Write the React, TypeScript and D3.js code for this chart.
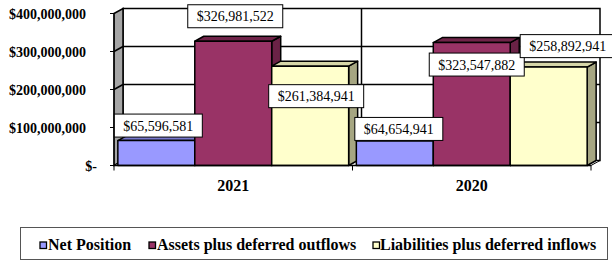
import React from 'react';
import * as d3 from 'd3';

const WIDTH = 612;
const HEIGHT = 261;

const years = ['2021', '2020'];
const seriesNames = ['Net Position', 'Assets plus deferred outflows', 'Liabilities plus deferred inflows'];
const netPosition = [65596581, 64654941];
const assets = [326981522, 323547882];
const liabilities = [261384941, 258892941];
const yTicks = [0, 100000000, 200000000, 300000000, 400000000];

// label nudges (dx, dy from top centre of the bar), as in the original
const LABEL_NUDGE = [
  [[2, -15], [2, -25], [6, 30]],
  [[4, -12], [5, 22], [19, -21]],
];

const COLORS = [
  { front: '#9999FF', top: '#7777CC', side: '#6E6EB8' },
  { front: '#993366', top: '#702449', side: '#6A2246' },
  { front: '#FFFFCC', top: '#D6D6A8', side: '#A6A682' },
];

const PLOT = { left: 114, right: 591, top: 13.5, bottom: 165.5 };
const DEPTH = { dx: 9, dy: -5 };
const FONT = '"Liberation Serif", "Times New Roman", serif';

const fmtMoney = (v: number) => '$' + d3.format(',')(v);
const textWidth = (s: string) =>
  s.split('').reduce((acc, c) => acc + (c === ',' ? 3.5 : 7), 0);

export default function App() {
  const values = [netPosition, assets, liabilities];

  const x0 = d3.scaleBand().domain(years).range([PLOT.left, PLOT.right]).padding(0);
  const x1 = d3
    .scaleBand()
    .domain(seriesNames)
    .range([0, x0.bandwidth()])
    .paddingInner(0)
    .paddingOuter(0.05);
  const y = d3.scaleLinear().domain([0, 400000000]).range([PLOT.bottom, PLOT.top]);

  const { dx, dy } = DEPTH;
  const bx = PLOT.left + dx;
  const bTop = PLOT.top + dy;
  const bBottom = PLOT.bottom + dy;
  const bRight = PLOT.right + dx;

  const bars: React.ReactNode[] = [];
  const labels: React.ReactNode[] = [];
  years.forEach((yr, c) => {
    seriesNames.forEach((s, i) => {
      const v = values[i][c];
      const xL = (x0(yr) ?? 0) + (x1(s) ?? 0);
      const w = x1.bandwidth();
      const yT = y(v);
      const yB = y(0);
      const col = COLORS[i];
      bars.push(
        <g key={`${yr}-${s}`} stroke="#000" strokeWidth={1.5} strokeLinejoin="round">
          <polygon
            points={`${xL + w},${yT} ${xL + w + dx},${yT + dy} ${xL + w + dx},${yB + dy} ${xL + w},${yB}`}
            fill={col.side}
          />
          <polygon
            points={`${xL},${yT} ${xL + dx},${yT + dy} ${xL + w + dx},${yT + dy} ${xL + w},${yT}`}
            fill={col.top}
          />
          <rect x={xL} y={yT} width={w} height={yB - yT} fill={col.front} />
        </g>
      );
      const txt = fmtMoney(v);
      const tw = textWidth(txt);
      const [ndx, ndy] = LABEL_NUDGE[c][i];
      const cx = xL + w / 2 + ndx;
      const cy = yT + ndy;
      labels.push(
        <g key={`l-${yr}-${s}`}>
          <rect x={cx - tw / 2 - 9} y={cy - 11.5} width={tw + 18} height={23} fill="#fff" stroke="#000" strokeWidth={1} />
          <text x={cx} y={cy + 5} textAnchor="middle" fontFamily={FONT} fontSize={14} fill="#000">
            {txt}
          </text>
        </g>
      );
    });
  });

  const legendItems = [
    { x: 40, tx: 48 },
    { x: 149, tx: 157 },
    { x: 373, tx: 380 },
  ];

  return (
    <svg width={WIDTH} height={HEIGHT} style={{ position: 'absolute', left: 0, top: 0 }}>
      <rect width={WIDTH} height={HEIGHT} fill="#fff" />

      {/* back wall */}
      <rect x={bx} y={bTop} width={bRight - bx} height={bBottom - bTop} fill="#fff" stroke="#000" strokeWidth={1.5} />
      {/* side wall */}
      <polygon
        points={`${PLOT.left},${PLOT.top} ${bx},${bTop} ${bx},${bBottom} ${PLOT.left},${PLOT.bottom}`}
        fill="#A6A6A6"
        stroke="#000"
        strokeWidth={1.5}
      />
      {/* floor */}
      <polygon
        points={`${PLOT.left},${PLOT.bottom} ${bx},${bBottom} ${bRight},${bBottom} ${PLOT.right},${PLOT.bottom}`}
        fill="#fff"
        stroke="#000"
        strokeWidth={1}
      />
      {/* grid */}
      {yTicks.slice(1, -1).map((t) => (
        <g key={t} stroke="#000" strokeWidth={1.5}>
          <line x1={PLOT.left} y1={y(t)} x2={bx} y2={y(t) + dy} />
          <line x1={bx} y1={y(t) + dy} x2={bRight} y2={y(t) + dy} />
        </g>
      ))}
      {years.slice(1).map((yr) => (
        <line
          key={yr}
          x1={(x0(yr) ?? 0) + dx}
          x2={(x0(yr) ?? 0) + dx}
          y1={bTop}
          y2={bBottom}
          stroke="#000"
          strokeWidth={1.5}
        />
      ))}

      {/* y axis */}
      <line x1={PLOT.left} x2={PLOT.left} y1={PLOT.top} y2={PLOT.bottom} stroke="#000" strokeWidth={1} />
      {yTicks.map((t) => (
        <g key={t}>
          <line x1={PLOT.left - 4} x2={PLOT.left} y1={y(t)} y2={y(t)} stroke="#000" strokeWidth={1} />
          <text
            x={t === 0 ? 97 : 86}
            y={y(t) + 5}
            textAnchor="end"
            fontFamily={FONT}
            fontWeight="bold"
            fontSize={14}
            fill="#000"
          >
            {t === 0 ? '$-' : fmtMoney(t)}
          </text>
        </g>
      ))}

      {bars}

      {/* x axis */}
      <line x1={PLOT.left} x2={PLOT.right} y1={PLOT.bottom} y2={PLOT.bottom} stroke="#000" strokeWidth={1.5} />
      {[...years.map((yr) => x0(yr) ?? 0), PLOT.right].map((xv, i) => (
        <line key={i} x1={xv} x2={xv} y1={PLOT.bottom} y2={PLOT.bottom + 5} stroke="#000" strokeWidth={1} />
      ))}
      {years.map((yr) => (
        <text
          key={yr}
          x={(x0(yr) ?? 0) + x0.bandwidth() / 2}
          y={191}
          textAnchor="middle"
          fontFamily={FONT}
          fontWeight="bold"
          fontSize={16}
          fill="#000"
        >
          {yr}
        </text>
      ))}

      {labels}

      {/* legend */}
      <rect x={20.5} y={227.5} width={587} height={32} fill="#fff" stroke="#555" strokeWidth={1} />
      {seriesNames.map((s, i) => (
        <g key={s}>
          <rect x={legendItems[i].x} y={242} width={6.5} height={6.5} fill={COLORS[i].front} stroke="#000" strokeWidth={1.3} />
          <text x={legendItems[i].tx} y={249.5} fontFamily={FONT} fontWeight="bold" fontSize={16} fill="#000">
            {s}
          </text>
        </g>
      ))}
    </svg>
  );
}
